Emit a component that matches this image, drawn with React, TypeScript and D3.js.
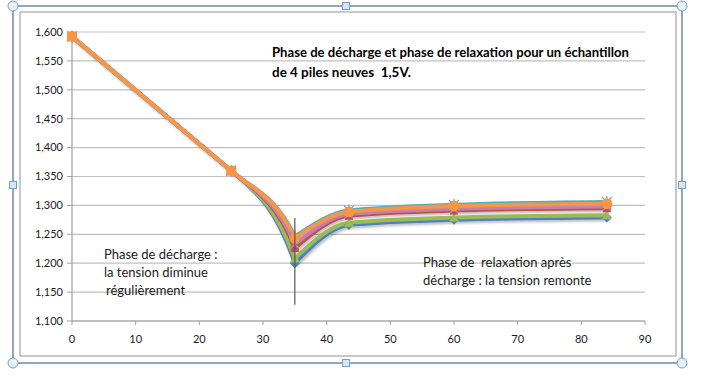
import React from "react";
import * as d3 from "d3";

const xValues = [0, 25, 35, 43.5, 60, 84];
const seriesNames = ["Pile 1", "Pile 2", "Pile 3", "Pile 4", "Pile 5", "Pile 6"];
const seriesA = [1.592, 1.36, 1.2, 1.266, 1.275, 1.279];
const seriesB = [1.592, 1.36, 1.208, 1.27, 1.279, 1.283];
const seriesC = [1.592, 1.36, 1.226, 1.282, 1.291, 1.295];
const seriesD = [1.592, 1.36, 1.233, 1.285, 1.294, 1.298];
const seriesE = [1.592, 1.36, 1.246, 1.291, 1.301, 1.306];
const seriesF = [1.592, 1.36, 1.244, 1.289, 1.299, 1.303];
const colors = ["#4F81BD", "#9BBB59", "#C0504D", "#C080B0", "#4BACC6", "#F79646"];
const yTicks = [1.1, 1.15, 1.2, 1.25, 1.3, 1.35, 1.4, 1.45, 1.5, 1.55, 1.6];
const xTicks = [0, 10, 20, 30, 40, 50, 60, 70, 80, 90];
const markerLineX = [35, 35];
const markerLineY = [1.128, 1.278];
const titleLines = [
  "Phase de décharge et phase de relaxation pour un échantillon",
  "de 4 piles neuves  1,5V.",
];
const leftNote = ["Phase de décharge :", "la tension diminue", "régulièrement"];
const rightNote = ["Phase de  relaxation après", "décharge : la tension remonte"];

export default function App() {
  const W = 703;
  const H = 377;
  const x = d3.scaleLinear().domain([0, 90]).range([72, 645]);
  const y = d3.scaleLinear().domain([1.1, 1.6]).range([321, 32]);
  const all = [seriesA, seriesB, seriesC, seriesD, seriesE, seriesF];
  const line = d3
    .line<[number, number]>()
    .x((d) => x(d[0]))
    .y((d) => y(d[1]))
    .curve(d3.curveMonotoneX);
  const pathFor = (s: number[]) => {
    const pts = s.map((v, i) => [xValues[i], v] as [number, number]);
    const k = s.indexOf(Math.min(...s));
    const p = d3.path();
    const px = pts.map((d) => x(d[0]));
    const py = pts.map((d) => y(d[1]));
    p.moveTo(px[0], py[0]);
    for (let i = 1; i < k; i++) p.lineTo(px[i], py[i]);
    const a = k - 1;
    const h = px[k] - px[a];
    const s0 = ((py[a] - py[a - 1]) / (px[a] - px[a - 1])) * 1.05;
    const s2 = ((py[k] - py[a]) / h) * 2;
    p.bezierCurveTo(px[a] + h / 3, py[a] + (s0 * h) / 3, px[k] - h / 3, py[k] - (s2 * h) / 3, px[k], py[k]);
    return p.toString() + (line(pts.slice(k)) || "");
  };
  const fmt = (v: number) => v.toFixed(3).replace(".", ",");
  const font = "Lato, 'Open Sans', sans-serif";

  const handleStroke = "#7f9db9";
  const circles = [
    [13, 6],
    [682, 6],
    [13, 363],
    [682, 363],
  ];
  const squares = [
    [346, 6],
    [346, 363],
    [13, 185],
    [682, 185],
  ];

  return (
    <svg
      width={W}
      height={H}
      style={{ position: "absolute", left: 0, top: 0, background: "#fff" }}
      fontFamily={font}
    >
      <defs>
        <filter id="sh" x="-5%" y="-5%" width="110%" height="120%">
          <feDropShadow dx="1.5" dy="2" stdDeviation="1.2" floodColor="#000" floodOpacity="0.25" />
        </filter>
      </defs>
      <rect x={0} y={0} width={W} height={H} fill="#fff" />
      <rect x={13} y={6} width={669} height={357} fill="none" stroke="#4a6a8c" strokeWidth={1.2} />
      <rect x={20} y={12} width={656} height={344} fill="#fff" stroke="#a6a6a6" strokeWidth={1.2} />
      {yTicks.map((t) => (
        <line key={"g" + t} x1={x(0)} x2={x(90)} y1={y(t)} y2={y(t)} stroke="#c0c0c0" strokeWidth={1.2} />
      ))}
      <line x1={x(0)} x2={x(0)} y1={y(1.1)} y2={y(1.6)} stroke="#a0a0a0" strokeWidth={1.2} />
      {yTicks.map((t) => (
        <g key={"y" + t}>
          <line x1={x(0) - 5} x2={x(0)} y1={y(t)} y2={y(t)} stroke="#a0a0a0" />
          <text x={x(0) - 9} y={y(t)} dy="0.35em" textAnchor="end" fontSize={11} fill="#1a1a1a">
            {fmt(t)}
          </text>
        </g>
      ))}
      <line x1={x(0)} x2={x(90)} y1={y(1.1)} y2={y(1.1)} stroke="#a0a0a0" strokeWidth={1.2} />
      {xTicks.map((t) => (
        <g key={"x" + t}>
          <line x1={x(t)} x2={x(t)} y1={y(1.1)} y2={y(1.1) + 4} stroke="#a0a0a0" />
          <text x={x(t)} y={y(1.1) + 22} textAnchor="middle" fontSize={11} fill="#1a1a1a">
            {t}
          </text>
        </g>
      ))}
      <g filter="url(#sh)">
        {all.map((s, i) => (
          <path
            key={seriesNames[i]}
            d={pathFor(s)}
            fill="none"
            stroke={colors[i]}
            strokeWidth={4}
            strokeLinejoin="round"
            strokeLinecap="round"
          />
        ))}
      </g>
      {all.map((s, i) =>
        s.map((v, j) => {
          const cx = x(xValues[j]);
          const cy = y(v);
          const c = colors[i];
          if (i === 0)
            return (
              <path key={i + "-" + j} d={`M${cx},${cy - 5}L${cx + 5},${cy}L${cx},${cy + 5}L${cx - 5},${cy}Z`} fill={c} />
            );
          if (i === 1)
            return <path key={i + "-" + j} d={`M${cx},${cy - 5}L${cx + 5},${cy + 4}L${cx - 5},${cy + 4}Z`} fill={c} />;
          if (i === 2) return <rect key={i + "-" + j} x={cx - 4} y={cy - 4} width={8} height={8} fill={c} />;
          if (i === 3)
            return (
              <path key={i + "-" + j} d={`M${cx - 4},${cy - 4}L${cx + 4},${cy + 4}M${cx + 4},${cy - 4}L${cx - 4},${cy + 4}`} stroke={c} strokeWidth={1.5} />
            );
          if (i === 4)
            return (
              <path
                key={i + "-" + j}
                d={`M${cx - 5},${cy - 5}L${cx + 5},${cy + 5}M${cx + 5},${cy - 5}L${cx - 5},${cy + 5}M${cx},${cy - 6}L${cx},${cy + 6}`}
                stroke={c}
                strokeWidth={1.2}
              />
            );
          return j < 2 ? (
            <rect key={i + "-" + j} x={cx - 5} y={cy - 5} width={10} height={10} fill={c} />
          ) : (
            <circle key={i + "-" + j} cx={cx} cy={cy} r={5.5} fill={c} />
          );
        })
      )}
      <line
        x1={x(markerLineX[0])}
        x2={x(markerLineX[1])}
        y1={y(markerLineY[0])}
        y2={y(markerLineY[1])}
        stroke="#555"
        strokeWidth={1.2}
      />
      {titleLines.map((t, i) => (
        <text
          key={"t" + i}
          x={272}
          y={57 + i * 20}
          fontSize={12.5}
          fontWeight="bold"
          fill="#000"
          textLength={i === 0 ? 357 : 139}
          lengthAdjust="spacingAndGlyphs"
          style={{ whiteSpace: "pre" }}
        >
          {t}
        </text>
      ))}
      {leftNote.map((t, i) => (
        <text key={"l" + i} x={i === 2 ? 106 : 104} y={259 + i * 18} fontSize={13} fill="#1a1a1a">
          {t}
        </text>
      ))}
      {rightNote.map((t, i) => (
        <text key={"r" + i} x={423} y={267 + i * 18} fontSize={13} fill="#1a1a1a" style={{ whiteSpace: "pre" }}>
          {t}
        </text>
      ))}
      {circles.map(([cx, cy], i) => (
        <circle key={"c" + i} cx={cx} cy={cy} r={5} fill="#e8f0f8" stroke={handleStroke} strokeWidth={1} />
      ))}
      {squares.map(([cx, cy], i) => (
        <rect key={"s" + i} x={cx - 3.5} y={cy - 3.5} width={7} height={7} fill="#d6e6f6" stroke={handleStroke} strokeWidth={1} />
      ))}
    </svg>
  );
}
